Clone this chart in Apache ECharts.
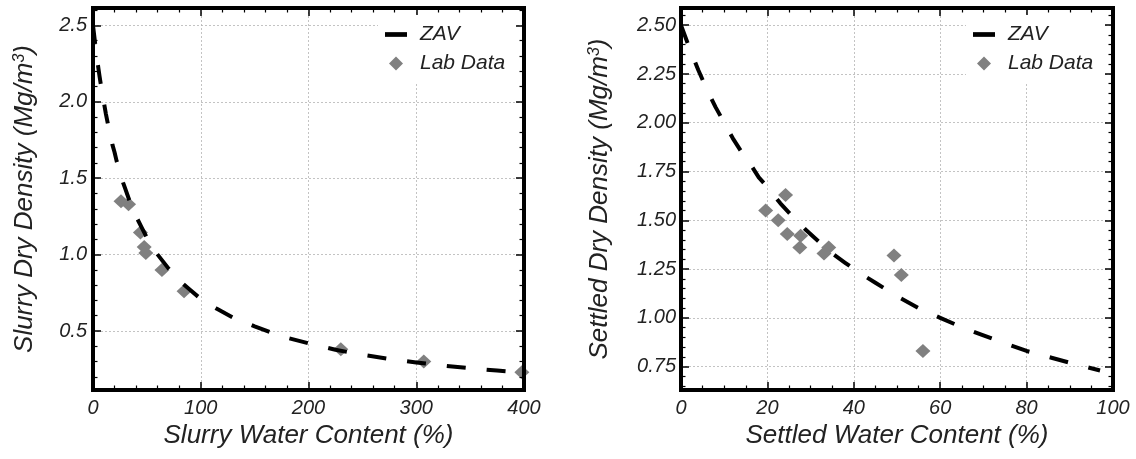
<!DOCTYPE html>
<html><head><meta charset="utf-8">
<script src="https://cdn.jsdelivr.net/npm/echarts@6/dist/echarts.min.js"></script>
<style>html,body{margin:0;padding:0;background:#fff}#c{width:1136px;height:459px}</style>
</head><body><div id="c"></div>
<script>
// ---- data ----
const slurryZavW   = [0, 1, 2, 3, 4, 5, 6, 8, 10, 12, 14, 16, 18, 20, 22, 25, 28, 30, 35, 40, 45, 50, 55, 60, 70, 80, 90, 100, 115, 130, 150, 175, 200, 225, 250, 275, 300, 325, 350, 375, 400];
const slurryZavRho = [2.50, 2.44, 2.38, 2.33, 2.27, 2.22, 2.17, 2.08, 2.00, 1.92, 1.85, 1.79, 1.72, 1.67, 1.61, 1.54, 1.47, 1.43, 1.33, 1.25, 1.18, 1.11, 1.05, 1.00, 0.91, 0.83, 0.77, 0.71, 0.645, 0.588, 0.53, 0.465, 0.42, 0.377, 0.345, 0.317, 0.294, 0.274, 0.256, 0.241, 0.227];
const slurryLabW   = [26, 33, 44, 47.5, 49, 64, 84.5, 230, 307, 398];
const slurryLabRho = [1.35, 1.33, 1.145, 1.05, 1.01, 0.90, 0.76, 0.38, 0.30, 0.23];

const settledZavW   = [0, 2, 4, 6, 8, 10, 12, 14, 16, 18, 20, 23, 26, 29, 32, 35, 38, 41, 45, 50, 55, 60, 65, 70, 75, 80, 85, 90, 97];
const settledZavRho = [2.50, 2.38, 2.27, 2.17, 2.08, 2.00, 1.92, 1.85, 1.79, 1.72, 1.67, 1.587, 1.515, 1.449, 1.389, 1.33, 1.282, 1.235, 1.18, 1.11, 1.05, 1.00, 0.952, 0.91, 0.87, 0.83, 0.80, 0.77, 0.73];
const settledLabW   = [19.6, 24.2, 22.5, 24.6, 27.7, 27.5, 33.1, 34.2, 49.3, 51.0, 56.0];
const settledLabRho = [1.55, 1.63, 1.50, 1.43, 1.42, 1.36, 1.33, 1.36, 1.32, 1.22, 0.83];

const leftXTitle = 'Slurry Water Content (%)';
const leftYTitle = 'Slurry Dry Density (Mg/m{sup|3})';
const rightXTitle = 'Settled Water Content (%)';
const rightYTitle = 'Settled Dry Density (Mg/m{sup|3})';
const seriesNames = ['ZAV', 'Lab Data'];

const FONT = '"Liberation Sans", Arial, Helvetica, sans-serif';
const zip = (a, b) => a.map((v, i) => [v, b[i]]);

function titleStyle() {
  return {fontFamily: FONT, fontStyle: 'italic', fontSize: 26, color: '#222',
    rich: {sup: {fontFamily: FONT, fontStyle: 'italic', fontSize: 16, color: '#222', verticalAlign: 'top', lineHeight: 14}}};
}
function makeAxis(g, min, max, interval, minorSplit, opts) {
  const primary = !opts.secondary;
  const a = {
    type: 'value', gridIndex: g, min: min, max: max,
    minInterval: interval, maxInterval: interval,
    position: opts.position,
    z: primary ? 0 : 5,
    axisLine: {show: true, onZero: false, lineStyle: {color: '#000', width: 4}},
    axisTick: {show: true, inside: true, length: 8, lineStyle: {color: '#000', width: 1.5}},
    minorTick: {show: true, splitNumber: minorSplit, length: 4.5, lineStyle: {color: '#000', width: 1.2}},
    axisLabel: {show: primary, margin: opts.margin || 8, fontFamily: FONT, fontStyle: 'italic', fontSize: 20, color: '#222',
      showMinLabel: opts.showEnds, showMaxLabel: opts.showEnds, formatter: opts.fmt},
    splitLine: {show: primary, lineStyle: {color: '#b4b4b4', width: 0.8, type: [2, 2]}},
    minorSplitLine: {show: false}
  };
  if (primary && opts.name) {
    a.name = opts.name; a.nameLocation = 'middle'; a.nameGap = opts.nameGap; a.nameTextStyle = titleStyle();
  }
  return a;
}
const fx0 = v => String(Math.round(v));
const fy1 = v => v.toFixed(1);
const fy2 = v => v.toFixed(2);

const grids = [
  {left: 93, top: 8, width: 431, height: 382, show: true, borderColor: '#000', borderWidth: 4, backgroundColor: 'transparent'},
  {left: 681, top: 8, width: 432, height: 382, show: true, borderColor: '#000', borderWidth: 4, backgroundColor: 'transparent'}
];

const xAxis = [
  makeAxis(0, 0, 400, 100, 5, {position: 'bottom', fmt: fx0, showEnds: true, name: leftXTitle, nameGap: 33, margin: 8}),
  makeAxis(0, 0, 400, 100, 5, {position: 'top', secondary: true}),
  makeAxis(1, 0, 100, 20, 4, {position: 'bottom', fmt: fx0, showEnds: true, name: rightXTitle, nameGap: 33, margin: 8}),
  makeAxis(1, 0, 100, 20, 4, {position: 'top', secondary: true})
];
const yAxis = [
  makeAxis(0, 0.114, 2.614, 0.5, 5, {position: 'left', fmt: fy1, showEnds: false, name: leftYTitle, nameGap: 55, margin: 6}),
  makeAxis(0, 0.114, 2.614, 0.5, 5, {position: 'right', secondary: true}),
  makeAxis(1, 0.63, 2.588, 0.25, 5, {position: 'left', fmt: fy2, showEnds: false, name: rightYTitle, nameGap: 68, margin: 5}),
  makeAxis(1, 0.63, 2.588, 0.25, 5, {position: 'right', secondary: true})
];

function legendFor(left) {
  return {
    left: left, top: 15, orient: 'vertical', itemGap: 8, itemWidth: 22, itemHeight: 14,
    padding: [9, 10, 10, 7], backgroundColor: '#fff', selectedMode: false, z: 6,
    textStyle: {fontFamily: FONT, fontStyle: 'italic', fontSize: 21, color: '#222', padding: [0, 0, 0, 8]},
    data: [
      {name: seriesNames[0], icon: 'path://M0,0H21V4.5H0Z', itemStyle: {color: '#000', borderWidth: 0}},
      {name: seriesNames[1], icon: 'path://M7,0L14,7L7,14L0,7Z', itemStyle: {color: '#808080', borderWidth: 0}}
    ]
  };
}

function lineSeries(xi, yi, xs, ys) {
  return {type: 'line', name: seriesNames[0], xAxisIndex: xi, yAxisIndex: yi, data: zip(xs, ys),
    showSymbol: false, symbol: 'none', smooth: false, z: 3, silent: true,
    itemStyle: {color: '#000'},
    lineStyle: {color: '#000', width: 4, type: [19, 21], cap: 'butt', join: 'round'}};
}
function scatterSeries(xi, yi, xs, ys) {
  return {type: 'scatter', name: seriesNames[1], xAxisIndex: xi, yAxisIndex: yi, data: zip(xs, ys),
    symbol: 'diamond', symbolSize: [15, 14], z: 2, silent: true, clip: true,
    itemStyle: {color: '#808080', opacity: 1}};
}

const chart = echarts.init(document.getElementById('c'), null, {renderer: 'canvas'});
chart.setOption({
  animation: false,
  backgroundColor: '#fff',
  grid: grids,
  xAxis: xAxis,
  yAxis: yAxis,
  legend: [legendFor(378), legendFor(966)],
  series: [
    scatterSeries(0, 0, slurryLabW, slurryLabRho),
    lineSeries(0, 0, slurryZavW, slurryZavRho),
    scatterSeries(2, 2, settledLabW, settledLabRho),
    lineSeries(2, 2, settledZavW, settledZavRho)
  ]
});
</script></body></html>
